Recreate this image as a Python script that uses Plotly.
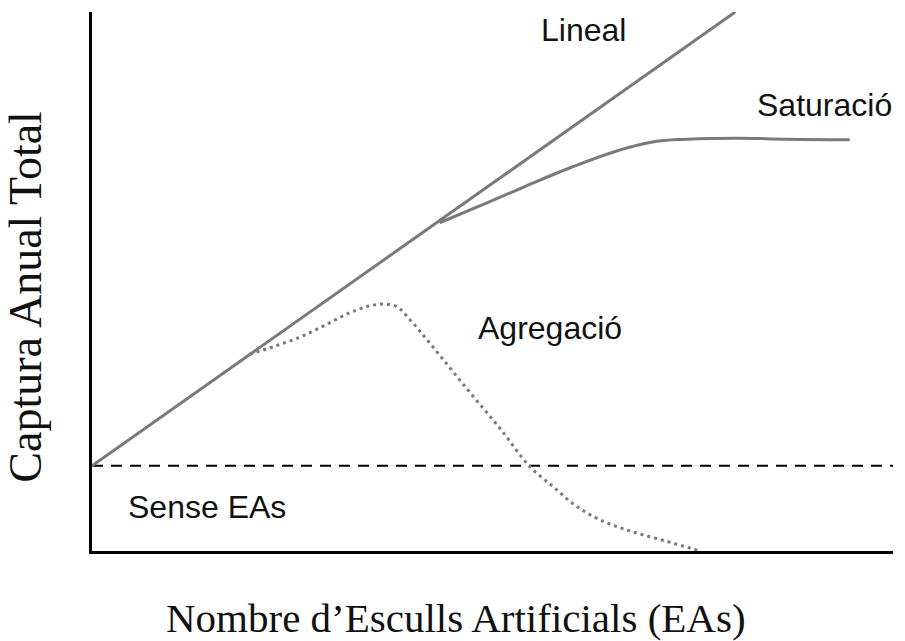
import plotly.graph_objects as go

# Data (arbitrary units, x: 0-100, y: 0-100)
lineal_x = [0, 80.3]
lineal_y = [15.8, 100]

base_x = [0, 100]
base_y = [15.8, 15.8]

sat_x = [43.4, 49.3, 53.4, 59.7, 65.9, 70.0, 74.3, 80.5, 86.8, 94.6]
sat_y = [60.9, 64.6, 67.2, 71.1, 74.4, 75.9, 76.4, 76.6, 76.4, 76.3]

agr_x = [19.7, 22.8, 26.0, 29.1, 32.2, 34.7, 36.6, 38.1, 39.7, 42.6, 46.8, 50.9, 54.7,
         57.6, 60.3, 63.4, 67.2, 71.5, 75.9]
agr_y = [36.5, 38.0, 39.7, 41.9, 44.2, 45.5, 45.8, 45.3, 42.9, 37.8, 30.1, 22.8, 15.6,
         11.9, 8.5, 5.8, 3.7, 1.9, 0.0]

labels = ["Lineal", "Saturació", "Agregació", "Sense EAs"]
label_x = [61.3, 91.4, 57.2, 14.4]
label_y = [96.7, 82.7, 41.4, 8.2]

x_title = "Nombre d’Esculls Artificials (EAs)"
y_title = "Captura Anual Total"

gray = "#7a7a7a"

fig = go.Figure()
fig.add_trace(go.Scatter(x=base_x, y=base_y, mode="lines",
                         line=dict(color="black", width=2, dash="11px,8px"),
                         hoverinfo="skip"))
fig.add_trace(go.Scatter(x=lineal_x, y=lineal_y, mode="lines",
                         line=dict(color=gray, width=3), hoverinfo="skip"))
fig.add_trace(go.Scatter(x=sat_x, y=sat_y, mode="lines",
                         line=dict(color=gray, width=3, shape="spline", smoothing=1.2),
                         hoverinfo="skip"))
fig.add_trace(go.Scatter(x=agr_x, y=agr_y, mode="lines",
                         line=dict(color=gray, width=3, shape="spline", smoothing=1.0,
                                   dash="3px,4px"),
                         hoverinfo="skip"))

for t, x, y in zip(labels, label_x, label_y):
    fig.add_annotation(x=x, y=y, xref="x", yref="y", text=t, showarrow=False,
                       font=dict(family="Liberation Sans, Arial", size=32, color="#111"))

fig.add_annotation(x=0.454, y=-0.125, xref="paper", yref="paper", text=x_title,
                   showarrow=False, xanchor="center", yanchor="middle",
                   font=dict(family="Liberation Serif, Times New Roman", size=41, color="#111"))
fig.add_annotation(x=-0.083, y=0.471, xref="paper", yref="paper", text=y_title,
                   showarrow=False, textangle=-90, xanchor="center", yanchor="middle",
                   font=dict(family="Liberation Serif, Times New Roman", size=46, color="#111"))

fig.update_layout(
    width=905, height=641,
    margin=dict(l=92, r=12, t=12, b=90, autoexpand=False),
    paper_bgcolor="white", plot_bgcolor="white",
    showlegend=False,
    xaxis=dict(range=[0, 100], showgrid=False, zeroline=False, showticklabels=False,
               ticks="", showline=True, linecolor="black", linewidth=3, fixedrange=True),
    yaxis=dict(range=[0, 100], showgrid=False, zeroline=False, showticklabels=False,
               ticks="", showline=True, linecolor="black", linewidth=3, fixedrange=True),
)

fig.write_html("out.html", config={"displayModeBar": False},
               post_script="document.body.style.margin='0';document.body.style.overflow='hidden';")
